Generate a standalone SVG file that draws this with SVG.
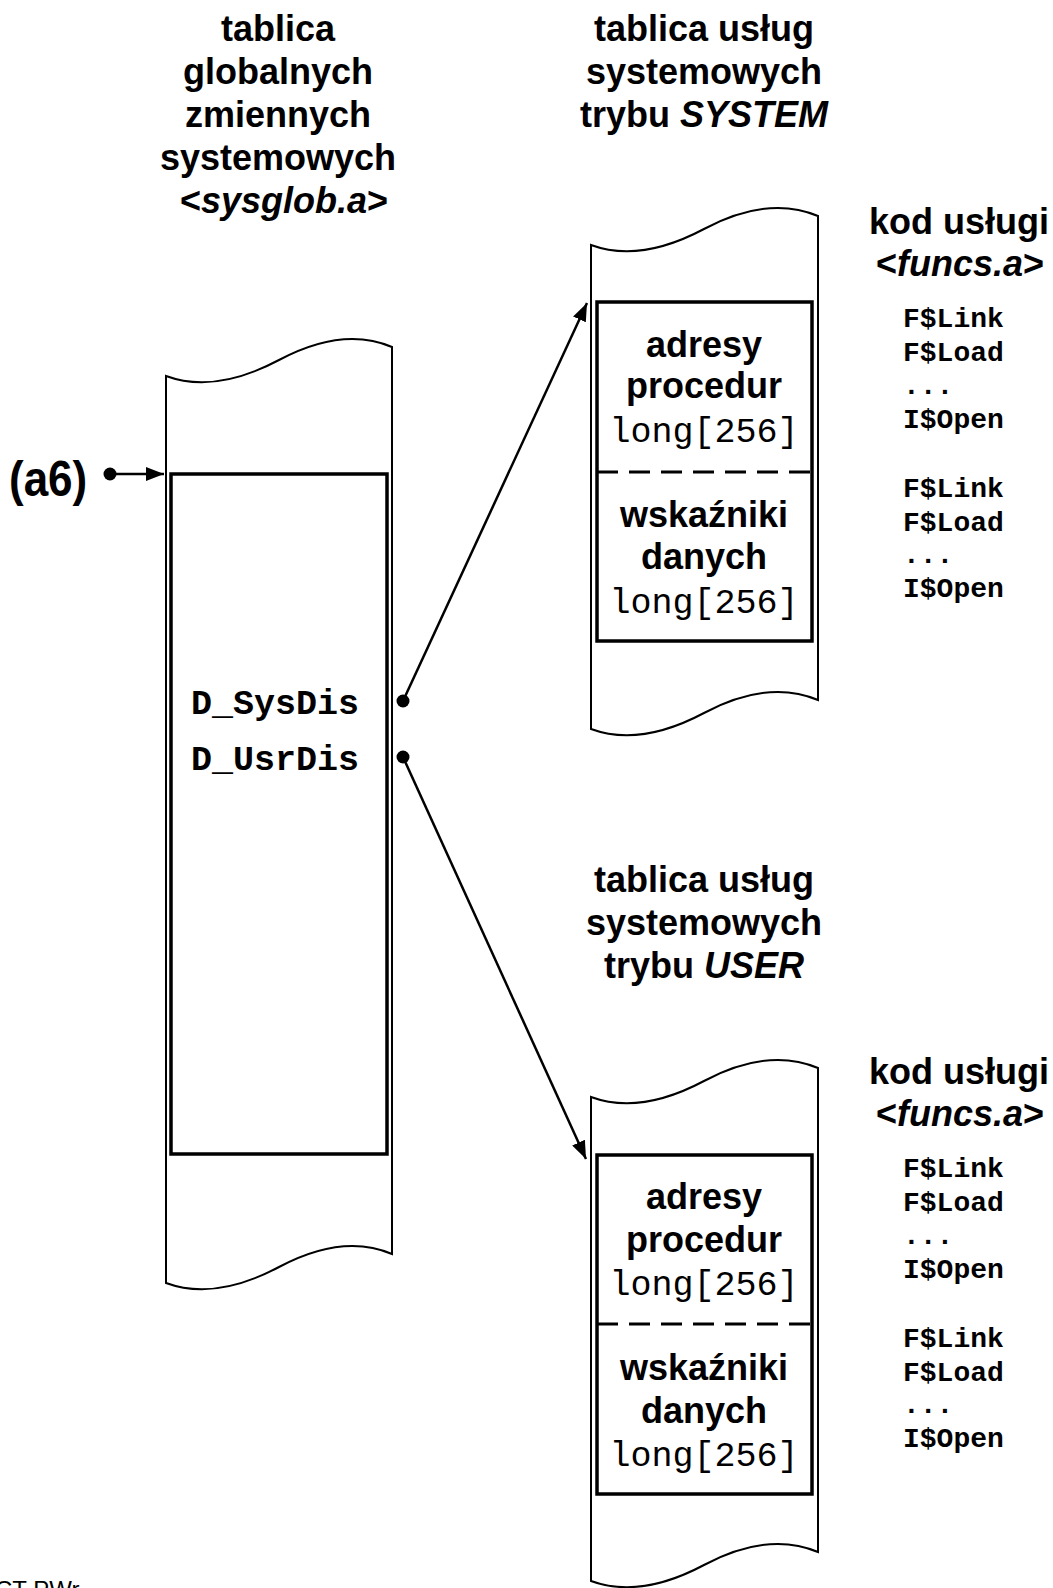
<svg xmlns="http://www.w3.org/2000/svg" width="1053" height="1588" viewBox="0 0 1053 1588">
<style>
.t{font-family:"Liberation Sans",Arial,sans-serif;font-weight:bold;font-size:36px;fill:#000;text-anchor:middle}
.i{font-style:italic}
.m{font-family:"Liberation Mono","Courier New",monospace;font-size:35px;fill:#000}
.mb{font-family:"Liberation Mono","Courier New",monospace;font-weight:bold;font-size:35px;fill:#000}
.ms{font-family:"Liberation Mono","Courier New",monospace;font-weight:bold;font-size:28px;fill:#000}
.sh{fill:#fff;stroke:#000;stroke-width:2}
.in{fill:none;stroke:#000;stroke-width:3.5}
.dash{stroke:#000;stroke-width:3;stroke-dasharray:21 11}
.con{stroke:#000;stroke-width:2.5;fill:none}
</style>
<defs>
<marker id="ah" markerUnits="userSpaceOnUse" markerWidth="20" markerHeight="14" refX="18" refY="7" orient="auto"><path d="M0,0 L18,7 L0,14 Z" fill="#000"/></marker>
</defs>
<rect width="1053" height="1588" fill="#fff"/>

<g id="title-global">
<text class="t" x="278" y="41">tablica</text>
<text class="t" x="278" y="84">globalnych</text>
<text class="t" x="278" y="127">zmiennych</text>
<text class="t" x="278" y="170">systemowych</text>
<text class="t" x="284" y="213">&lt;<tspan class="i">sysglob.a</tspan>&gt;</text>
</g>

<g id="title-system">
<text class="t" x="704" y="41">tablica usług</text>
<text class="t" x="704" y="84">systemowych</text>
<text class="t" x="704" y="127">trybu <tspan class="i">SYSTEM</tspan></text>
</g>

<g id="title-user">
<text class="t" x="704" y="892">tablica usług</text>
<text class="t" x="704" y="935">systemowych</text>
<text class="t" x="704" y="978">trybu <tspan class="i">USER</tspan></text>
</g>

<g id="global-table">
<path class="sh" d="M166,376 Q215,394 279,360 Q343,326 392,347 L392,1254 Q343,1233 279,1267 Q215,1301 166,1283 Z"/>
<rect class="in" x="171" y="474" width="216" height="680"/>
<text class="mb" x="191" y="714">D_SysDis</text>
<text class="mb" x="191" y="770">D_UsrDis</text>
</g>

<g id="system-table">
<path class="sh" d="M591,245 Q640,263 704,229 Q768,195 818,216 L818,700 Q768,679 704,713 Q640,747 591,729 Z"/>
<rect class="in" x="597" y="302" width="215" height="339"/>
<line class="dash" x1="597" y1="472" x2="812" y2="472"/>
<text class="t" x="704" y="357">adresy</text>
<text class="t" x="704" y="398">procedur</text>
<text class="m" x="704" y="442" text-anchor="middle">long[256]</text>
<text class="t" x="704" y="527">wskaźniki</text>
<text class="t" x="704" y="569">danych</text>
<text class="m" x="704" y="613" text-anchor="middle">long[256]</text>
</g>

<g id="user-table">
<path class="sh" d="M591,1097 Q640,1115 704,1081 Q768,1047 818,1068 L818,1552 Q768,1531 704,1565 Q640,1599 591,1581 Z"/>
<rect class="in" x="597" y="1155" width="215" height="339"/>
<line class="dash" x1="597" y1="1324" x2="812" y2="1324"/>
<text class="t" x="704" y="1209">adresy</text>
<text class="t" x="704" y="1252">procedur</text>
<text class="m" x="704" y="1295" text-anchor="middle">long[256]</text>
<text class="t" x="704" y="1380">wskaźniki</text>
<text class="t" x="704" y="1423">danych</text>
<text class="m" x="704" y="1466" text-anchor="middle">long[256]</text>
</g>

<g id="code-system">
<text class="t" x="959" y="234">kod usługi</text>
<text class="t" x="960" y="276">&lt;<tspan class="i">funcs.a</tspan>&gt;</text>
<text class="ms" x="903" y="327">F$Link</text>
<text class="ms" x="903" y="361">F$Load</text>
<text class="ms" x="903" y="394">...</text>
<text class="ms" x="903" y="428">I$Open</text>
<text class="ms" x="903" y="497">F$Link</text>
<text class="ms" x="903" y="531">F$Load</text>
<text class="ms" x="903" y="563">...</text>
<text class="ms" x="903" y="597">I$Open</text>
</g>

<g id="code-user">
<text class="t" x="959" y="1084">kod usługi</text>
<text class="t" x="960" y="1126">&lt;<tspan class="i">funcs.a</tspan>&gt;</text>
<text class="ms" x="903" y="1177">F$Link</text>
<text class="ms" x="903" y="1211">F$Load</text>
<text class="ms" x="903" y="1244">...</text>
<text class="ms" x="903" y="1278">I$Open</text>
<text class="ms" x="903" y="1347">F$Link</text>
<text class="ms" x="903" y="1381">F$Load</text>
<text class="ms" x="903" y="1413">...</text>
<text class="ms" x="903" y="1447">I$Open</text>
</g>

<g id="a6">
<text x="0" y="0" transform="translate(9,496) scale(0.88,1)" style="font-family:'Liberation Sans',Arial,sans-serif;font-weight:bold;font-size:50px">(a6)</text>
</g>

<g id="connectors">
<circle cx="110" cy="474" r="6.5" fill="#000"/>
<line class="con" x1="110" y1="474" x2="164" y2="474" marker-end="url(#ah)"/>
<circle cx="403" cy="701" r="6.5" fill="#000"/>
<line class="con" x1="403" y1="701" x2="587" y2="303" marker-end="url(#ah)"/>
<circle cx="403" cy="757" r="6.5" fill="#000"/>
<line class="con" x1="403" y1="757" x2="586" y2="1159" marker-end="url(#ah)"/>
</g>

<text x="-5" y="1598" style="font-family:'Liberation Sans',Arial,sans-serif;font-size:24px">CT PWr</text>
</svg>
